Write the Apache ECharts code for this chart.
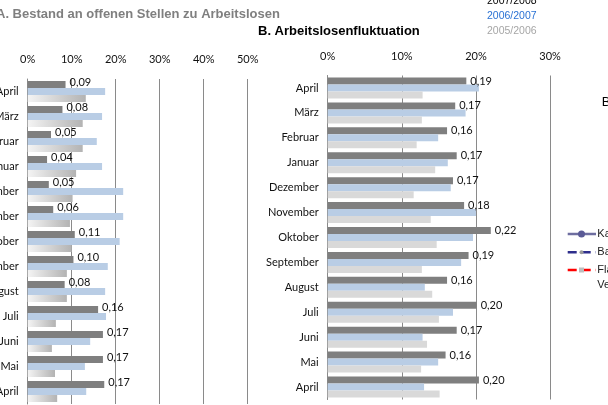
<!DOCTYPE html>
<html><head><meta charset="utf-8">
<script src="https://cdn.jsdelivr.net/npm/echarts@6/dist/echarts.min.js"></script>
<style>html,body{margin:0;padding:0;background:#fff}#c{width:608px;height:405px}</style>
</head><body><div id="c"></div><script>
const months = ['April','März','Februar','Januar','Dezember','November','Oktober','September','August','Juli','Juni','Mai','April'];
const seriesNames = ['2007/2008','2006/2007','2005/2006'];
// A. Bestand an offenen Stellen zu Arbeitslosen
const leftDark = [0.086,0.079,0.053,0.044,0.048,0.058,0.107,0.104,0.084,0.160,0.171,0.171,0.174];
const leftBlue = [0.176,0.169,0.157,0.169,0.217,0.217,0.209,0.182,0.176,0.178,0.142,0.130,0.133];
const leftGrey = [0.132,0.125,0.125,0.110,0.102,0.096,0.100,0.089,0.089,0.064,0.055,0.062,0.067];
// B. Arbeitslosenfluktuation
const rightDark = [0.187,0.172,0.161,0.174,0.169,0.184,0.220,0.190,0.161,0.201,0.174,0.159,0.204];
const rightBlue = [0.204,0.186,0.149,0.162,0.166,0.200,0.196,0.180,0.131,0.169,0.128,0.149,0.130];
const rightGrey = [0.128,0.127,0.120,0.145,0.116,0.139,0.147,0.127,0.141,0.150,0.134,0.126,0.151];
const leftMax = 0.5, rightMax = 0.3, tickStep = 0.1;
const rightLegend = ['Kanton Zürich','Basel-Stadt','Flandern','Vergleich'];

const chart = echarts.init(document.getElementById('c'), null, {renderer:'canvas'});
const F = 'Lato, "Open Sans", sans-serif';
const A = '"Liberation Sans", Arial, sans-serif';
const pct = v => Math.round(v*100) + '%';
const lab = p => p.value.toFixed(2).replace('.', ',');
function xAx(idx, max){
  return {type:'value', gridIndex:idx, position:'top', min:0, max:max, interval:tickStep,
    axisLine:{show:false}, axisTick:{show:false},
    splitLine:{show:true, lineStyle:{color:'#8a8a8a', width:1}},
    axisLabel:{formatter:pct, color:'#111', fontSize:11, fontFamily:F, margin:14}};
}
function yAx(idx){
  return {type:'category', gridIndex:idx, inverse:true, data:months,
    axisLine:{show:true, lineStyle:{color:'#8a8a8a', width:1}}, axisTick:{show:false},
    axisLabel:{color:'#111', fontSize:11, fontFamily:F, margin:9, interval:0}};
}
function bars(idx, d, b, g, gColor, lblOffset){
  return [
    {name:seriesNames[0], type:'bar', xAxisIndex:idx, yAxisIndex:idx, data:d, barWidth:7, barGap:'0%',
      itemStyle:{color:'#7f7f7f'},
      label:{show:true, position:'right', distance:4, formatter:lab, color:'#111', fontSize:11, fontFamily:F, offset:lblOffset}},
    {name:seriesNames[1], type:'bar', xAxisIndex:idx, yAxisIndex:idx, data:b, barWidth:7, barGap:'0%',
      itemStyle:{color:'#b9cde5'}},
    {name:seriesNames[2], type:'bar', xAxisIndex:idx, yAxisIndex:idx, data:g, barWidth:7, barGap:'0%',
      itemStyle:{color:gColor}}
  ];
}
const grad = new echarts.graphic.LinearGradient(0,0,1,0,[{offset:0,color:'#f4f4f4'},{offset:1,color:'#b3b3b3'}]);
const option = {
  animation:false,
  backgroundColor:'#fff',
  grid:[
    {left:27.7, top:79, width:220, height:325, containLabel:false, outerBoundsMode:'none'},
    {left:327.7, top:75.5, width:222.4, height:324, containLabel:false, outerBoundsMode:'none'}
  ],
  xAxis:[xAx(0, leftMax), xAx(1, rightMax)],
  yAxis:[yAx(0), yAx(1)],
  series:[].concat(bars(0, leftDark, leftBlue, leftGrey, grad, [0,-2]),
                   bars(1, rightDark, rightBlue, rightGrey, '#d9d9d9', [0,0])),
  graphic:[
    {type:'text', x:-4, y:14, style:{text:'A. Bestand an offenen Stellen zu Arbeitslosen', font:'bold 13px '+A, fill:'#7f7f7f', verticalAlign:'middle'}},
    {type:'text', x:258, y:31, style:{text:'B. Arbeitslosenfluktuation', font:'bold 13px '+A, fill:'#000', verticalAlign:'middle'}},
    {type:'text', x:487, y:1, style:{text:seriesNames[0], font:'10.5px '+A, fill:'#000', verticalAlign:'middle'}},
    {type:'text', x:487, y:16, style:{text:seriesNames[1], font:'10.5px '+A, fill:'#2a72d4', verticalAlign:'middle'}},
    {type:'text', x:487, y:31.5, style:{text:seriesNames[2], font:'10.5px '+A, fill:'#a6a6a6', verticalAlign:'middle'}},
    {type:'text', x:601.7, y:102, style:{text:'B. Vergleich', font:'13px '+A, fill:'#000', verticalAlign:'middle'}},
    {type:'line', shape:{x1:567.7,y1:234,x2:596,y2:234}, style:{stroke:'#6e6ea0', lineWidth:2.5}},
    {type:'circle', shape:{cx:581.5,cy:234,r:3.5}, style:{fill:'#5a5a96'}},
    {type:'line', shape:{x1:567.7,y1:252.3,x2:596,y2:252.3}, style:{stroke:'#2e2e8c', lineWidth:2.5, lineDash:[9,5]}},
    {type:'circle', shape:{cx:581.5,cy:252.3,r:2}, style:{fill:'#9a9a9a'}},
    {type:'line', shape:{x1:567.7,y1:270,x2:596,y2:270}, style:{stroke:'#ff0000', lineWidth:2.5, lineDash:[9,5]}},
    {type:'rect', shape:{x:579,y:267.5,width:5,height:5}, style:{fill:'#bdbdbd'}},
    {type:'text', x:597.3, y:234, style:{text:rightLegend[0], font:'11px '+A, fill:'#222', verticalAlign:'middle'}},
    {type:'text', x:597.3, y:252.3, style:{text:rightLegend[1], font:'11px '+A, fill:'#222', verticalAlign:'middle'}},
    {type:'text', x:597.3, y:270, style:{text:rightLegend[2], font:'11px '+A, fill:'#222', verticalAlign:'middle'}},
    {type:'text', x:597.3, y:285, style:{text:rightLegend[3], font:'11px '+A, fill:'#222', verticalAlign:'middle'}}
  ]
};
chart.setOption(option);
</script></body></html>
